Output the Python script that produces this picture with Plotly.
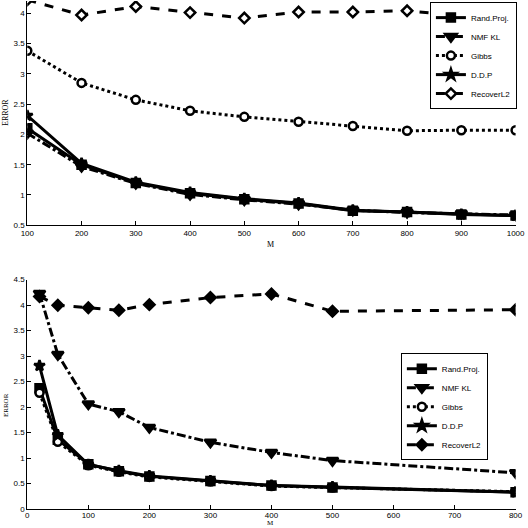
import plotly.graph_objects as go

# ---- data: top panel ----
m_top = [100, 200, 300, 400, 500, 600, 700, 800, 900, 1000]
top_randproj = [2.10, 1.50, 1.20, 1.03, 0.93, 0.86, 0.74, 0.72, 0.68, 0.66]
top_nmfkl = [2.02, 1.47, 1.19, 1.01, 0.92, 0.85, 0.75, 0.71, 0.69, 0.67]
top_gibbs = [3.38, 2.85, 2.57, 2.39, 2.29, 2.21, 2.14, 2.06, 2.07, 2.07]
top_ddp = [2.31, 1.52, 1.21, 1.04, 0.94, 0.87, 0.75, 0.72, 0.68, 0.66]
top_recover = [4.22, 3.97, 4.11, 4.01, 3.92, 4.02, 4.02, 4.04, 3.96, 3.90]

# ---- data: bottom panel ----
m_bot = [20, 50, 100, 150, 200, 300, 400, 500, 800]
bot_randproj = [2.37, 1.36, 0.88, 0.74, 0.64, 0.55, 0.46, 0.42, 0.33]
bot_nmfkl = [4.23, 3.03, 2.06, 1.91, 1.60, 1.31, 1.11, 0.95, 0.71]
bot_gibbs = [2.28, 1.32, 0.86, 0.73, 0.63, 0.54, 0.45, 0.42, 0.34]
bot_ddp = [2.81, 1.45, 0.87, 0.75, 0.65, 0.55, 0.46, 0.43, 0.33]
bot_recover = [4.17, 4.00, 3.95, 3.90, 4.01, 4.15, 4.22, 3.88, 3.91]

names = ["Rand.Proj.", "NMF KL", "Gibbs", "D.D.P", "RecoverL2"]
top_tick_vals = [0.5, 1, 1.5, 2, 2.5, 3, 3.5, 4]
bot_tick_vals = [0, 0.5, 1, 1.5, 2, 2.5, 3, 3.5, 4, 4.5]
bot_x_ticks = [0, 100, 200, 300, 400, 500, 600, 700, 800]

FONT = "Liberation Sans, Arial, sans-serif"
SERIF = "Liberation Serif, serif"
BLACK = "black"

styles = [
    dict(dash="solid", symbol="square", size=8, fill=BLACK),
    dict(dash="dashdot", symbol="triangle-down", size=10, fill=BLACK),
    dict(dash="dot", symbol="circle", size=8, fill="white"),
    dict(dash="solid", symbol="star", size=8, fill=BLACK),
    dict(dash="dash", symbol="diamond", size=8, fill="white"),
]

fig = go.Figure()

top_series = [top_randproj, top_nmfkl, top_gibbs, top_ddp, top_recover]
for name, ys, st in zip(names, top_series, styles):
    fig.add_trace(go.Scatter(
        x=m_top, y=ys, name=name, mode="lines+markers",
        line=dict(color=BLACK, width=3, dash=st["dash"]),
        marker=dict(symbol=st["symbol"], size=st["size"], color=st["fill"],
                    line=dict(color=BLACK, width=2.5)),
        xaxis="x", yaxis="y", legend="legend",
    ))

bot_series = [bot_randproj, bot_nmfkl, bot_gibbs, bot_ddp, bot_recover]
bot_fill = [BLACK, BLACK, "white", BLACK, BLACK]
for name, ys, st, fc in zip(names, bot_series, styles, bot_fill):
    fig.add_trace(go.Scatter(
        x=m_bot, y=ys, name=name, mode="lines+markers",
        line=dict(color=BLACK, width=3, dash=st["dash"]),
        marker=dict(symbol=st["symbol"], size=st["size"], color=fc,
                    line=dict(color=BLACK, width=2.5)),
        xaxis="x2", yaxis="y2", legend="legend2",
    ))

axis_common = dict(
    showgrid=False, zeroline=False, showline=True, linecolor=BLACK, linewidth=1,
    ticks="inside", ticklen=4, tickcolor=BLACK, mirror=False, automargin=False,
    tickfont=dict(family=FONT, size=8, color=BLACK),
)

legend_common = dict(
    bgcolor="white", bordercolor=BLACK, borderwidth=1,
    font=dict(family=FONT, size=8, color=BLACK),
    tracegroupgap=0, itemwidth=30,
)

fig.update_layout(
    width=528, height=528, autosize=False,
    margin=dict(l=0, r=0, t=0, b=0, pad=0, autoexpand=False),
    paper_bgcolor="white", plot_bgcolor="white",
    font=dict(family=FONT, size=8, color=BLACK),
    xaxis=dict(domain=[0.0517, 0.9765], range=[100, 1000],
               tickvals=m_top, anchor="y", **axis_common),
    yaxis=dict(domain=[0.5733, 0.9979], range=[0.5, 4.2],
               tickvals=top_tick_vals, anchor="x", **axis_common),
    xaxis2=dict(domain=[0.0517, 0.9765], range=[0, 800], ticklabelstandoff=-2,
                tickvals=bot_x_ticks, anchor="y2", **axis_common),
    yaxis2=dict(domain=[0.036, 0.4703], range=[0, 4.5],
                tickvals=bot_tick_vals, anchor="x2", **axis_common),
    legend=dict(x=0.979, xanchor="right", y=0.996, yanchor="top", **legend_common),
    legend2=dict(x=0.924, xanchor="right", y=0.331, yanchor="top", **legend_common),
    showlegend=True,
)

ann_common = dict(xref="paper", yref="paper", showarrow=False,
                  xanchor="center", yanchor="middle")
fig.add_annotation(text="M", x=270 / 528, y=(528 - 244) / 528,
                   font=dict(family=SERIF, size=8), **ann_common)
fig.add_annotation(text="M", x=270 / 528, y=(528 - 523) / 528,
                   font=dict(family=SERIF, size=7), **ann_common)
fig.add_annotation(text="ERROR", x=6 / 528, y=(528 - 113) / 528, textangle=-90,
                   font=dict(family=SERIF, size=8), **ann_common)
fig.add_annotation(text="ERROR", x=6 / 528, y=(528 - 405) / 528, textangle=-90,
                   font=dict(family=SERIF, size=7), **ann_common)

fig.write_html(
    "out.html",
    config={"responsive": False, "displayModeBar": False},
    post_script="document.body.style.margin='0';document.body.style.overflow='hidden';",
)
